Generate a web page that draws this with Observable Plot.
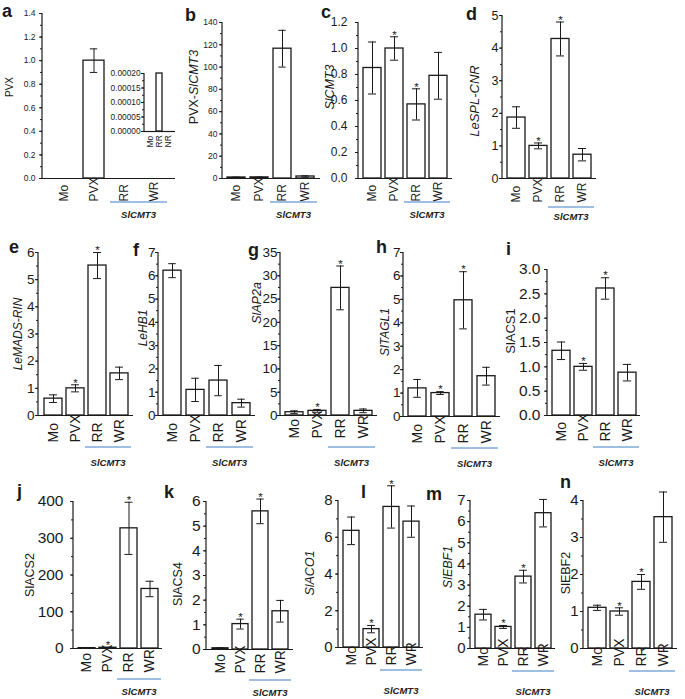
<!DOCTYPE html>
<html><head><meta charset="utf-8">
<script src="https://cdn.jsdelivr.net/npm/d3@7"></script>
<script src="https://cdn.jsdelivr.net/npm/@observablehq/plot@0.6"></script>
<style>
body{margin:0;background:#fff;}
#fig{position:relative;width:685px;height:699px;overflow:hidden;background:#fff;font-family:"Liberation Sans",Arial,Helvetica,sans-serif;color:#1a1a1a;}
</style></head><body><div id="fig"></div>
<script>
// ---------- data ----------
const categories = ["Mo", "PVX", "RR", "WR"];
const insetCategories = ["Mo", "RR", "NR"];
const groupLabel = "SlCMT3";
const panelLetters = ["a","b","c","d","e","f","g","h","i","j","k","l","m","n"];

const pvxMean = [0, 1.0, 0, 0];
const pvxErr  = [0, 0.10, 0, 0];
const pvxSig  = [0, 0, 0, 0];
const pvxInsetMean = [0, 0.0002, 0];
const pvxInsetErr  = [0, 0, 0];
const pvxInsetSig  = [0, 0, 0];

const pvxCmt3Mean = [0.9, 1.0, 116.5, 1.8];
const pvxCmt3Err  = [0.3, 0.3, 16.5, 0.6];
const pvxCmt3Sig  = [0, 0, 0, 0];

const cmt3Mean = [0.85, 1.0, 0.57, 0.79];
const cmt3Err  = [0.20, 0.09, 0.12, 0.18];
const cmt3Sig  = [0, 1, 1, 0];

const cnrMean = [1.87, 1.0, 4.28, 0.73];
const cnrErr  = [0.33, 0.09, 0.52, 0.19];
const cnrSig  = [0, 1, 1, 0];

const rinMean = [0.62, 1.0, 5.52, 1.55];
const rinErr  = [0.14, 0.13, 0.48, 0.23];
const rinSig  = [0, 1, 1, 0];

const hb1Mean = [6.22, 1.1, 1.5, 0.53];
const hb1Err  = [0.30, 0.50, 0.65, 0.17];
const hb1Sig  = [0, 0, 0, 0];

const ap2aMean = [0.7, 1.0, 27.4, 1.0];
const ap2aErr  = [0.3, 0.3, 4.7, 0.4];
const ap2aSig  = [0, 1, 1, 0];

const tagl1Mean = [1.2, 1.0, 4.96, 1.72];
const tagl1Err  = [0.38, 0.06, 1.22, 0.38];
const tagl1Sig  = [0, 1, 1, 0];

const acs1Mean = [1.33, 1.0, 2.61, 0.88];
const acs1Err  = [0.18, 0.07, 0.22, 0.17];
const acs1Sig  = [0, 1, 1, 0];

const acs2Mean = [1, 2, 327, 162];
const acs2Err  = [1, 1, 71, 21];
const acs2Sig  = [0, 1, 1, 0];

const acs4Mean = [0.05, 1.03, 5.6, 1.55];
const acs4Err  = [0.02, 0.20, 0.50, 0.44];
const acs4Sig  = [0, 1, 1, 0];

const aco1Mean = [6.35, 1.0, 7.65, 6.85];
const aco1Err  = [0.75, 0.20, 1.15, 0.85];
const aco1Sig  = [0, 1, 1, 0];

const ebf1Mean = [1.6, 1.02, 3.4, 6.4];
const ebf1Err  = [0.25, 0.07, 0.30, 0.65];
const ebf1Sig  = [0, 1, 1, 0];

const ebf2Mean = [1.1, 1.0, 1.8, 3.55];
const ebf2Err  = [0.07, 0.10, 0.20, 0.68];
const ebf2Sig  = [0, 1, 1, 0];

// ---------- layout ----------
const FONT = '"Liberation Sans", Arial, Helvetica, sans-serif';
const INK = "#1a1a1a";
const BLUE = "#7ea8d8";

const row1 = {xFs: 12, xSx: 0.66, lblOff: 23, blueOff: 24, grpOff: 40};
const row2 = {xFs: 14, xSx: 0.76, lblOff: 27, blueOff: 32, grpOff: 51};
const row3a = {xFs: 14, xSx: 0.66, lblOff: 24, blueOff: 31, grpOff: 47};
const row3b = {xFs: 14, xSx: 0.58, lblOff: 18, blueOff: 23, grpOff: 47};

const panels = [
  {...row1, cats: categories, values: pvxMean, err: pvxErr, sig: pvxSig, max: 1.4, step: 0.2, minor: 0.1, fmt: ".1f",
   x0: 42, x1: 175, yt: 13, yb: 178, pad: 0.3, tickFs: 8.5, tp: 4, group: true,
   ylabel: [["PVX", false]], ylx: 9, yly: 87, ylFs: 10},
  {cats: insetCategories, values: pvxInsetMean, err: pvxInsetErr, sig: pvxInsetSig, max: 0.0002, step: 0.00005, minor: 0.000025, fmt: ".5f",
   x0: 144, x1: 175, yt: 73, yb: 131, pad: 0.3, tickFs: 8.3, tp: 1, xFs: 8.5, xSx: 1, lblOff: 16, group: false, ylabel: null},
  {...row1, cats: categories, values: pvxCmt3Mean, err: pvxCmt3Err, sig: pvxCmt3Sig, max: 140, step: 20, minor: 10, fmt: "d",
   x0: 222, x1: 320, yt: 22, yb: 178, pad: 0.2, tickFs: 8.5, tp: 2, group: true,
   ylabel: [["PVX-", false], ["SlCMT3", true]], ylx: 194, yly: 87, ylFs: 12.5},
  {...row1, cats: categories, values: cmt3Mean, err: cmt3Err, sig: cmt3Sig, max: 1.2, step: 0.2, minor: 0.1, fmt: ".1f",
   x0: 358, x1: 452, yt: 22, yb: 178, pad: 0.2, tickFs: 12, tp: 8, group: true,
   ylabel: [["SlCMT3", true]], ylx: 330, yly: 87, ylFs: 12.5},
  {...row1, lblOff: 24, blueOff: 29, grpOff: 42, cats: categories, values: cnrMean, err: cnrErr, sig: cnrSig, max: 5, step: 1, minor: 0.5, fmt: "d",
   x0: 502, x1: 596, yt: 15, yb: 178, pad: 0.2, tickFs: 12.5, tp: 1, group: true,
   ylabel: [["LeSPL-CNR", true]], ylx: 474, yly: 101, ylFs: 13},
  {...row2, cats: categories, values: rinMean, err: rinErr, sig: rinSig, max: 6, step: 1, minor: 0.5, fmt: "d",
   x0: 38, x1: 133, yt: 252, yb: 415, pad: 0.2, tickFs: 13.5, tp: 1, group: true,
   ylabel: [["LeMADS-RIN", true]], ylx: 18, yly: 334, ylFs: 12},
  {...row2, cats: categories, values: hb1Mean, err: hb1Err, sig: hb1Sig, max: 7, step: 1, minor: 0.5, fmt: "d",
   x0: 158, x1: 255, yt: 252, yb: 415, pad: 0.2, tickFs: 13.5, tp: 0, group: true,
   ylabel: [["LeHB1", true]], ylx: 143, yly: 328, ylFs: 12},
  {...row2, lblOff: 23, cats: categories, values: ap2aMean, err: ap2aErr, sig: ap2aSig, max: 35, step: 5, minor: 2.5, fmt: "d",
   x0: 280, x1: 377, yt: 252, yb: 415, pad: 0.2, tickFs: 13.5, tp: 0, group: true,
   ylabel: [["SlAP2a", true]], ylx: 257, yly: 303, ylFs: 12.5},
  {...row2, cats: categories, values: tagl1Mean, err: tagl1Err, sig: tagl1Sig, max: 7, step: 1, minor: 0.5, fmt: "d",
   x0: 403, x1: 500, yt: 252, yb: 416, pad: 0.2, tickFs: 13.5, tp: 0, group: true,
   ylabel: [["SlTAGL1", true]], ylx: 385, yly: 332, ylFs: 12},
  {...row2, lblOff: 26, cats: categories, values: acs1Mean, err: acs1Err, sig: acs1Sig, max: 3, step: 0.5, minor: 0.25, fmt: ".1f",
   x0: 547, x1: 640, yt: 269, yb: 415, pad: 0.2, tickFs: 15.5, tp: 4, group: true,
   ylabel: [["SlACS1", false]], ylx: 510, yly: 331, ylFs: 13},
  {...row3a, cats: categories, values: acs2Mean, err: acs2Err, sig: acs2Sig, max: 400, step: 100, minor: 50, fmt: "d",
   x0: 73, x1: 162, yt: 501, yb: 648, pad: 0.2, tickFs: 15.5, tp: 7, group: true,
   ylabel: [["SlACS2", false]], ylx: 30, yly: 575, ylFs: 12.5},
  {...row3a, cats: categories, values: acs4Mean, err: acs4Err, sig: acs4Sig, max: 6, step: 1, minor: 0.5, fmt: "d",
   x0: 206, x1: 293, yt: 501, yb: 649, pad: 0.2, tickFs: 15.5, tp: 3, group: true,
   ylabel: [["SlACS4", false]], ylx: 178, yly: 584, ylFs: 12.5},
  {...row3b, cats: categories, values: aco1Mean, err: aco1Err, sig: aco1Sig, max: 8, step: 2, minor: 1, fmt: "d",
   x0: 338, x1: 423, yt: 500, yb: 647, pad: 0.2, tickFs: 15, tp: 3, group: true,
   ylabel: [["SlACO1", true]], ylx: 310, yly: 573, ylFs: 12.5},
  {...row3b, cats: categories, values: ebf1Mean, err: ebf1Err, sig: ebf1Sig, max: 7, step: 1, minor: 0.5, fmt: "d",
   x0: 470, x1: 555, yt: 500, yb: 648, pad: 0.2, tickFs: 15, tp: 2, group: true,
   ylabel: [["SlEBF1", true]], ylx: 448, yly: 567, ylFs: 12.5},
  {...row3b, cats: categories, values: ebf2Mean, err: ebf2Err, sig: ebf2Sig, max: 4, step: 1, minor: 0.5, fmt: "d",
   x0: 583, x1: 677, yt: 500, yb: 648, pad: 0.2, tickFs: 15, tp: 2, group: true,
   ylabel: [["SlEBF2", false]], ylx: 566, yly: 573, ylFs: 12.5}
];

// letter baselines
const letterPos = [[2,17],[185,21],[321,18],[466,20],[9,253],[133,256],[248,256],[376,253],[506,255],[17,497],[164,498],[361,498],[426,500],[560,488]];

const root = document.getElementById("fig");

function drawPanel(p) {
  const mL = 70, mR = 10, mT = 24, mB = 64;
  const W = p.x1 - p.x0, H = p.yb - p.yt;
  const n = p.cats.length, pad = p.pad;
  const bw = W / (n + pad) * (1 - pad);
  const cap = p.cap ?? 8;
  const capInset = Math.max(0, (bw - cap) / 2);
  const rows = p.cats.map((c, i) => ({cat: c, v: p.values[i], e: p.err[i],
    lo: p.values[i] - p.err[i], hi: p.values[i] + p.err[i], sig: p.sig[i]}));
  const withErr = rows.filter(d => d.e > 0);
  const major = d3.range(Math.round(p.max / p.step) + 1).map(k => k * p.step);
  const minor = d3.range(Math.round(p.max / p.minor) + 1).map(k => k * p.minor);
  const starFs = 11.5;
  const plot = Plot.plot({
    width: W + mL + mR, height: H + mT + mB,
    marginLeft: mL, marginRight: mR, marginTop: mT, marginBottom: mB,
    style: {background: "transparent", overflow: "visible", fontFamily: FONT, color: INK},
    x: {domain: p.cats, padding: pad, axis: null},
    y: {domain: [0, p.max]},
    marks: [
      Plot.barY(rows, {x: "cat", y: "v", fill: "white", stroke: INK, strokeWidth: 1.3}),
      Plot.ruleX(withErr, {x: "cat", y1: "lo", y2: "hi", stroke: INK, strokeWidth: 1}),
      Plot.tickY(withErr, {x: "cat", y: "lo", stroke: INK, strokeWidth: 1, insetLeft: capInset, insetRight: capInset}),
      Plot.tickY(withErr, {x: "cat", y: "hi", stroke: INK, strokeWidth: 1, insetLeft: capInset, insetRight: capInset}),
      Plot.text(rows.filter(d => d.sig), {x: "cat", y: "hi", text: () => "*", lineAnchor: "top", dy: -(3 + 0.3 * starFs), fontSize: starFs}),
      Plot.ruleY([0], {stroke: INK, strokeWidth: 1.2}),
      Plot.axisY(minor, {tickSize: 2, tickFormat: () => ""}),
      Plot.axisY(major, {tickSize: 3, tickPadding: p.tp, fontSize: p.tickFs, tickFormat: d3.format(p.fmt)}),
      Plot.text(rows, {x: "cat", text: "cat", frameAnchor: "bottom", rotate: -90, textAnchor: "start",
        lineAnchor: "middle", dy: p.lblOff, fontSize: p.xFs, ariaLabel: "xlabels"})
    ]
  });
  plot.style.position = "absolute";
  const offX = p.x0 - mL, offY = p.yt - mT;
  plot.style.left = offX + "px";
  plot.style.top = offY + "px";
  root.appendChild(plot);

  const svg = d3.select(plot);
  const xs = plot.scale("x"), ys = plot.scale("y");
  const xl = xs.range[0];
  const yb = ys.apply(0), yt = ys.apply(p.max);
  svg.append("line").attr("x1", xl).attr("x2", xl).attr("y1", yb + 0.6).attr("y2", yt)
    .attr("stroke", INK).attr("stroke-width", 1.2);
  svg.selectAll('g[aria-label="xlabels"] text').attr("transform", function () {
    return (this.getAttribute("transform") || "") + ` scale(${p.xSx},1)`;
  });
  if (p.group) {
    const a = xs.apply("RR"), b = xs.apply("WR") + xs.bandwidth;
    svg.append("line").attr("x1", a - 3).attr("x2", b + 3)
      .attr("y1", yb + p.blueOff).attr("y2", yb + p.blueOff)
      .attr("stroke", BLUE).attr("stroke-width", 1.5);
    svg.append("text").attr("x", (a + b) / 2).attr("y", yb + p.grpOff)
      .attr("text-anchor", "middle").attr("font-weight", "bold").attr("font-style", "italic")
      .attr("font-size", 9.5).attr("fill", "#222").text(groupLabel);
  }
  if (p.ylabel) {
    const t = svg.append("text")
      .attr("x", 0).attr("y", 0)
      .attr("text-anchor", "start").attr("dominant-baseline", "central")
      .attr("font-size", p.ylFs).attr("fill", INK);
    p.ylabel.forEach(([s, it]) => t.append("tspan").attr("font-style", it ? "italic" : "normal").text(s));
    const len = t.node().getComputedTextLength();
    t.attr("transform", `translate(${p.ylx - offX},${p.yly - offY + len / 2}) rotate(-90)`);
  }
}

panels.forEach(drawPanel);

// panel letters overlay
const ov = d3.select(root).append("svg").attr("width", 685).attr("height", 699)
  .style("position", "absolute").style("left", 0).style("top", 0).style("pointer-events", "none");
ov.selectAll("text").data(panelLetters).join("text")
  .attr("x", (d, i) => letterPos[i][0]).attr("y", (d, i) => letterPos[i][1])
  .attr("font-family", FONT).attr("font-weight", "bold").attr("font-size", 18).attr("fill", INK)
  .text(d => d);
</script>
</body></html>
